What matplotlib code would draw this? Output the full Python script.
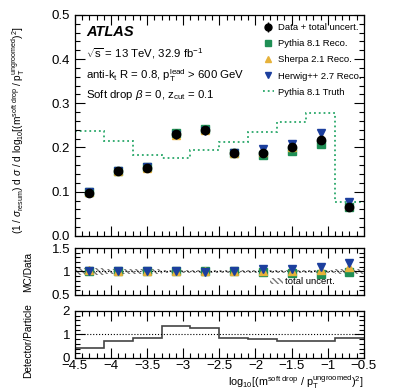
import numpy as np
import matplotlib.pyplot as plt
from matplotlib.ticker import MultipleLocator, AutoMinorLocator

plt.rcParams['font.family'] = ['Liberation Sans', 'DejaVu Sans']
plt.rcParams['mathtext.fontset'] = 'custom'
plt.rcParams['mathtext.rm'] = 'Liberation Sans'
plt.rcParams['mathtext.it'] = 'Liberation Sans:italic'

edges = np.linspace(-4.5, -0.5, 11)
centers = 0.5 * (edges[:-1] + edges[1:])

data = [0.098, 0.147, 0.154, 0.230, 0.240, 0.188, 0.187, 0.200, 0.218, 0.065]
data_err = [0.006, 0.006, 0.008, 0.007, 0.007, 0.005, 0.006, 0.007, 0.008, 0.006]
pythia = [0.100, 0.147, 0.155, 0.233, 0.242, 0.187, 0.183, 0.193, 0.207, 0.066]
sherpa = [0.100, 0.146, 0.154, 0.229, 0.239, 0.188, 0.189, 0.201, 0.224, 0.071]
herwig = [0.099, 0.147, 0.156, 0.229, 0.237, 0.188, 0.196, 0.208, 0.232, 0.077]
truth = [0.238, 0.214, 0.182, 0.176, 0.194, 0.213, 0.234, 0.258, 0.277, 0.076]

r_pythia = [1.02, 1.00, 1.00, 1.01, 1.01, 1.00, 0.98, 0.96, 0.95, 0.99]
r_sherpa = [1.03, 1.00, 1.00, 1.00, 1.00, 1.00, 1.02, 1.01, 1.04, 1.10]
r_herwig = [1.02, 1.00, 1.01, 1.00, 0.99, 1.00, 1.05, 1.06, 1.09, 1.18]
unc = [0.07, 0.06, 0.06, 0.04, 0.03, 0.03, 0.03, 0.03, 0.04, 0.05]

det_part = [0.43, 0.71, 0.87, 1.34, 1.26, 0.87, 0.80, 0.74, 0.74, 0.86]

c_py = '#1f8f55'
c_sh = '#e6b23a'
c_hw = '#1c3f9e'
c_tr = '#2aa86a'

fig = plt.figure(figsize=(4.07, 3.90), dpi=100)
ax = fig.add_axes([0.184, 0.395, 0.710, 0.567])
axr = fig.add_axes([0.184, 0.2436, 0.710, 0.1205])
axd = fig.add_axes([0.184, 0.0821, 0.710, 0.1205])


def style(a):
    a.set_xlim(-4.5, -0.5)
    a.xaxis.set_major_locator(MultipleLocator(0.5))
    a.xaxis.set_minor_locator(MultipleLocator(0.1))
    a.yaxis.set_minor_locator(AutoMinorLocator(5))
    a.tick_params(which='both', direction='in', top=True, right=True, labelsize=9.5)
    a.tick_params(which='major', length=7, width=0.8)
    a.tick_params(which='minor', length=3.5, width=0.8)
    for s in a.spines.values():
        s.set_linewidth(0.9)


# main panel
ax.stairs(truth, edges, baseline=None, color=c_tr, ls=':', lw=1.3)
ax.plot(centers, pythia, 's', color=c_py, ms=5.5)
ax.plot(centers, sherpa, '^', color=c_sh, ms=5.5)
ax.plot(centers, herwig, 'v', color=c_hw, ms=5.5)
ax.errorbar(centers, data, yerr=data_err, fmt='o', color='black', ms=6, elinewidth=1, capsize=0)
ax.set_ylim(0, 0.5)
ax.yaxis.set_major_locator(MultipleLocator(0.1))
style(ax)
ax.tick_params(labelbottom=False)
ax.set_ylabel(r'(1 / $\sigma_{\rm resum}$) d $\sigma$ / d log$_{10}$[(m$^{\rm soft\ drop}$ / p$_{\rm T}^{\rm ungroomed}$)$^2$]',
              fontsize=7.3)
ax.yaxis.set_label_coords(-0.165, 0.48)

ax.text(0.04, 0.905, 'ATLAS', transform=ax.transAxes, fontsize=10.5, fontweight='bold', style='italic')
ax.text(0.04, 0.805, r'$\sqrt{\rm s}$ = 13 TeV, 32.9 fb$^{-1}$', transform=ax.transAxes, fontsize=8.2)
ax.text(0.04, 0.71, r'anti-k$_{\rm t}$ R = 0.8, p$_{\rm T}^{\rm lead}$ > 600 GeV', transform=ax.transAxes, fontsize=8.2)
ax.text(0.04, 0.625, r'Soft drop $\beta$ = 0, z$_{\rm cut}$ = 0.1', transform=ax.transAxes, fontsize=8.2)

h_data = ax.errorbar([], [], yerr=[], fmt='o', color='black', ms=5, elinewidth=1)
h_py, = ax.plot([], [], 's', color=c_py, ms=5)
h_sh, = ax.plot([], [], '^', color=c_sh, ms=5)
h_hw, = ax.plot([], [], 'v', color=c_hw, ms=5)
h_tr, = ax.plot([], [], ':', color=c_tr, lw=1.3)
ax.legend([h_data, h_py, h_sh, h_hw, h_tr],
          ['Data + total uncert.', 'Pythia 8.1 Reco.', 'Sherpa 2.1 Reco.', 'Herwig++ 2.7 Reco.', 'Pythia 8.1 Truth'],
          loc='upper right', bbox_to_anchor=(1.02, 1.0), frameon=False, fontsize=6.8,
          handlelength=1.2, handletextpad=0.4, labelspacing=0.75)

# ratio panel
lo = [1 - u for u in unc]
hi = [1 + u for u in unc]
axr.stairs(hi, edges, baseline=lo, fill=True, facecolor='none', edgecolor='#777777', hatch='\\\\\\\\\\\\', lw=0)
axr.axhline(1, color='black', ls=':', lw=0.8)
axr.plot(centers, r_pythia, 's', color=c_py, ms=5.5)
axr.plot(centers, r_sherpa, '^', color=c_sh, ms=5.5)
axr.plot(centers, r_herwig, 'v', color=c_hw, ms=5.5)
axr.set_ylim(0.5, 1.5)
style(axr)
axr.set_yticks([0.5, 1, 1.5], ['0.5', '1', '1.5'])
axr.yaxis.set_minor_locator(MultipleLocator(0.1))
axr.tick_params(labelbottom=False)
axr.set_ylabel('MC/Data', fontsize=7.3)
axr.yaxis.set_label_coords(-0.145, 0.5)
h_unc = plt.Rectangle((0, 0), 1, 1, facecolor='none', edgecolor='#777777', hatch='\\\\\\\\\\\\', lw=0)
axr.legend([h_unc], ['total uncert.'], loc='lower right', bbox_to_anchor=(0.93, 0.0), frameon=False,
           fontsize=6.8, handlelength=1.3, handletextpad=0.3)

# detector / particle panel
axd.axhline(1, color='black', ls=':', lw=0.8)
axd.stairs(det_part, edges, baseline=None, color='#444444', lw=1.2)
axd.set_ylim(0, 2)
axd.yaxis.set_major_locator(MultipleLocator(1))
style(axd)
axd.set_xticks([-4.5, -4, -3.5, -3, -2.5, -2, -1.5, -1, -0.5],
               ['\u22124.5', '\u22124', '\u22123.5', '\u22123', '\u22122.5', '\u22122', '\u22121.5', '\u22121', '\u22120.5'])
axd.tick_params(axis='x', pad=1.5)
axd.set_ylabel('Detector/Particle', fontsize=7.3)
axd.yaxis.set_label_coords(-0.145, 0.38)
axd.set_xlabel(r'log$_{10}$[(m$^{\rm soft\ drop}$ / p$_{\rm T}^{\rm ungroomed}$)$^2$]', fontsize=7.8, loc='right',
               labelpad=0.5)

fig.savefig('out.png', dpi=100)
